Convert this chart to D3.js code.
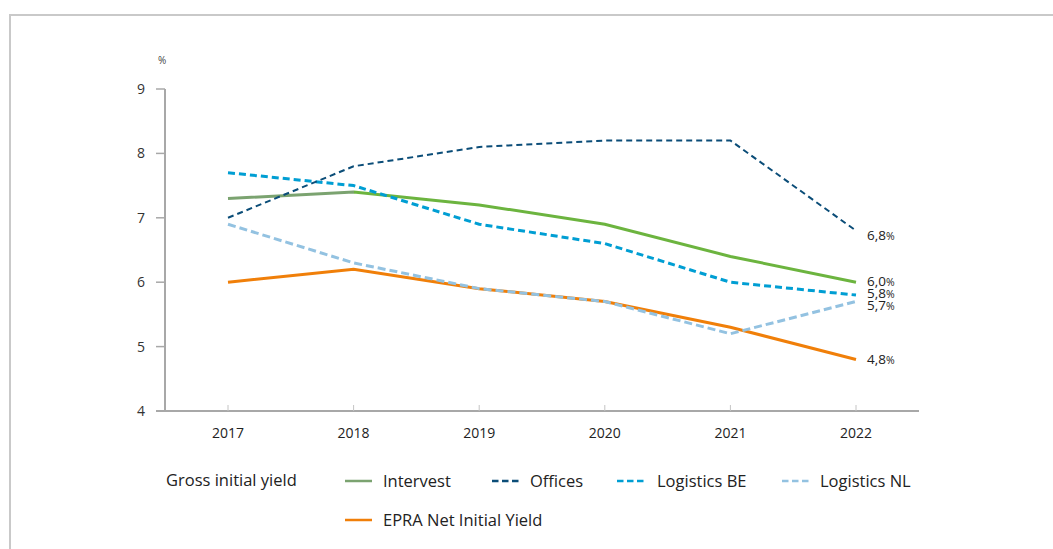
<!DOCTYPE html>
<html>
<head>
<meta charset="utf-8">
<script src="https://cdn.jsdelivr.net/npm/d3@7/dist/d3.min.js"></script>
<style>
  body { margin: 0; background: #fff; }
  svg { display: block; font-family: "Open Sans", "Liberation Sans", sans-serif; }
</style>
</head>
<body>
<div id="viz"></div>
<script>
// data
const years = ['2017', '2018', '2019', '2020', '2021', '2022'];
const intervest = [7.3, 7.4, 7.2, 6.9, 6.4, 6.0];
const offices = [7.0, 7.8, 8.1, 8.2, 8.2, 6.8];
const logisticsBE = [7.7, 7.5, 6.9, 6.6, 6.0, 5.8];
const logisticsNL = [6.9, 6.3, 5.9, 5.7, 5.2, 5.7];
const epra = [6.0, 6.2, 5.9, 5.7, 5.3, 4.8];
const yTicks = [4, 5, 6, 7, 8, 9];
const endLabels = ['6,8', '6,0', '5,8', '5,7', '4,8'];

const width = 1053;
const height = 549;

const svg = d3.select('#viz')
  .append('svg')
  .attr('width', width)
  .attr('height', height);

// outer frame
svg.append('path')
  .attr('d', `M10,${height + 5} L10,15 L${width + 5},15`)
  .attr('fill', 'none')
  .attr('stroke', '#c9c9c9')
  .attr('stroke-width', 2);

const x = d3.scalePoint()
  .domain(years)
  .range([228, 856]);

const y = d3.scaleLinear()
  .domain([4, 9])
  .range([411, 89]);

// y axis
svg.append('line')
  .attr('x1', 165).attr('x2', 165)
  .attr('y1', y(9)).attr('y2', y(4))
  .attr('stroke', '#a8a8a8').attr('stroke-width', 2);

svg.selectAll('.ytick')
  .data(yTicks)
  .enter()
  .append('line')
  .attr('x1', 156).attr('x2', 165)
  .attr('y1', d => y(d)).attr('y2', d => y(d))
  .attr('stroke', '#a8a8a8').attr('stroke-width', 1.5);

svg.selectAll('.ylab')
  .data(yTicks)
  .enter()
  .append('text')
  .attr('x', 145)
  .attr('y', d => y(d) + 5)
  .attr('text-anchor', 'end')
  .attr('font-size', 14)
  .attr('fill', '#333')
  .text(d => d);

svg.append('text')
  .attr('x', 158).attr('y', 64)
  .attr('font-size', 10)
  .attr('fill', '#444')
  .text('%');

// x axis
svg.append('line')
  .attr('x1', 156).attr('x2', 919)
  .attr('y1', y(4)).attr('y2', y(4))
  .attr('stroke', '#a8a8a8').attr('stroke-width', 2);

svg.selectAll('.xtick')
  .data(years)
  .enter()
  .append('line')
  .attr('x1', d => x(d)).attr('x2', d => x(d))
  .attr('y1', y(4) - 6).attr('y2', y(4))
  .attr('stroke', '#c4c4c4').attr('stroke-width', 1);

svg.selectAll('.xlab')
  .data(years)
  .enter()
  .append('text')
  .attr('x', d => x(d))
  .attr('y', 438)
  .attr('text-anchor', 'middle')
  .attr('font-size', 14)
  .attr('fill', '#222')
  .text(d => d);

// Intervest line changes colour after 2018
const defs = svg.append('defs');
const grad = defs.append('linearGradient')
  .attr('id', 'intervestGrad')
  .attr('gradientUnits', 'userSpaceOnUse')
  .attr('x1', x('2017')).attr('x2', x('2022'))
  .attr('y1', 0).attr('y2', 0);
grad.append('stop').attr('offset', 0).attr('stop-color', '#7ba370');
grad.append('stop').attr('offset', 0.2).attr('stop-color', '#7ba370');
grad.append('stop').attr('offset', 0.2).attr('stop-color', '#6cb43f');
grad.append('stop').attr('offset', 1).attr('stop-color', '#6cb43f');

const series = [
  { name: 'EPRA Net Initial Yield', values: epra, color: '#f07f09', dash: null, w: 3 },
  { name: 'Logistics NL', values: logisticsNL, color: '#93c2e1', dash: '8,4', w: 3 },
  { name: 'Intervest', values: intervest, color: 'url(#intervestGrad)', dash: null, w: 3 },
  { name: 'Logistics BE', values: logisticsBE, color: '#009ed3', dash: '7,4', w: 3 },
  { name: 'Offices', values: offices, color: '#0b4d78', dash: '6,4', w: 2 }
];

const line = d3.line()
  .x((d, i) => x(years[i]))
  .y(d => y(d));

svg.selectAll('.series')
  .data(series)
  .enter()
  .append('path')
  .attr('d', d => line(d.values))
  .attr('fill', 'none')
  .attr('stroke', d => d.color)
  .attr('stroke-width', d => d.w)
  .attr('stroke-dasharray', d => d.dash);

// end labels
const labelY = [235, 281, 293, 305, 359];
endLabels.forEach((t, i) => {
  const txt = svg.append('text')
    .attr('x', 867)
    .attr('y', labelY[i] + 5)
    .attr('font-size', 13.5)
    .attr('fill', '#222');
  txt.append('tspan').text(t);
  txt.append('tspan').attr('font-size', 10.5).text('%');
});

// legend
svg.append('text')
  .attr('x', 166).attr('y', 486)
  .attr('font-size', 16.5)
  .attr('fill', '#222')
  .text('Gross initial yield');

const legend = [
  { name: 'Intervest', color: '#7ba370', dash: null, lx: 345, tx: 383, ly: 481 },
  { name: 'Offices', color: '#0b4d78', dash: '6.5,3.5', lx: 492, tx: 530, ly: 481 },
  { name: 'Logistics BE', color: '#009ed3', dash: '6.5,3.5', lx: 617, tx: 657, ly: 481 },
  { name: 'Logistics NL', color: '#93c2e1', dash: '6.5,3.5', lx: 782, tx: 820, ly: 481 },
  { name: 'EPRA Net Initial Yield', color: '#f07f09', dash: null, lx: 345, tx: 383, ly: 520 }
];

const lg = svg.selectAll('.lg')
  .data(legend)
  .enter()
  .append('g');

lg.append('line')
  .attr('x1', d => d.lx).attr('x2', d => d.lx + 27)
  .attr('y1', d => d.ly).attr('y2', d => d.ly)
  .attr('stroke', d => d.color)
  .attr('stroke-width', 2.5)
  .attr('stroke-dasharray', d => d.dash);

lg.append('text')
  .attr('x', d => d.tx)
  .attr('y', d => d.ly + 5.5)
  .attr('font-size', 16.5)
  .attr('fill', '#222')
  .text(d => d.name);
</script>
</body>
</html>
